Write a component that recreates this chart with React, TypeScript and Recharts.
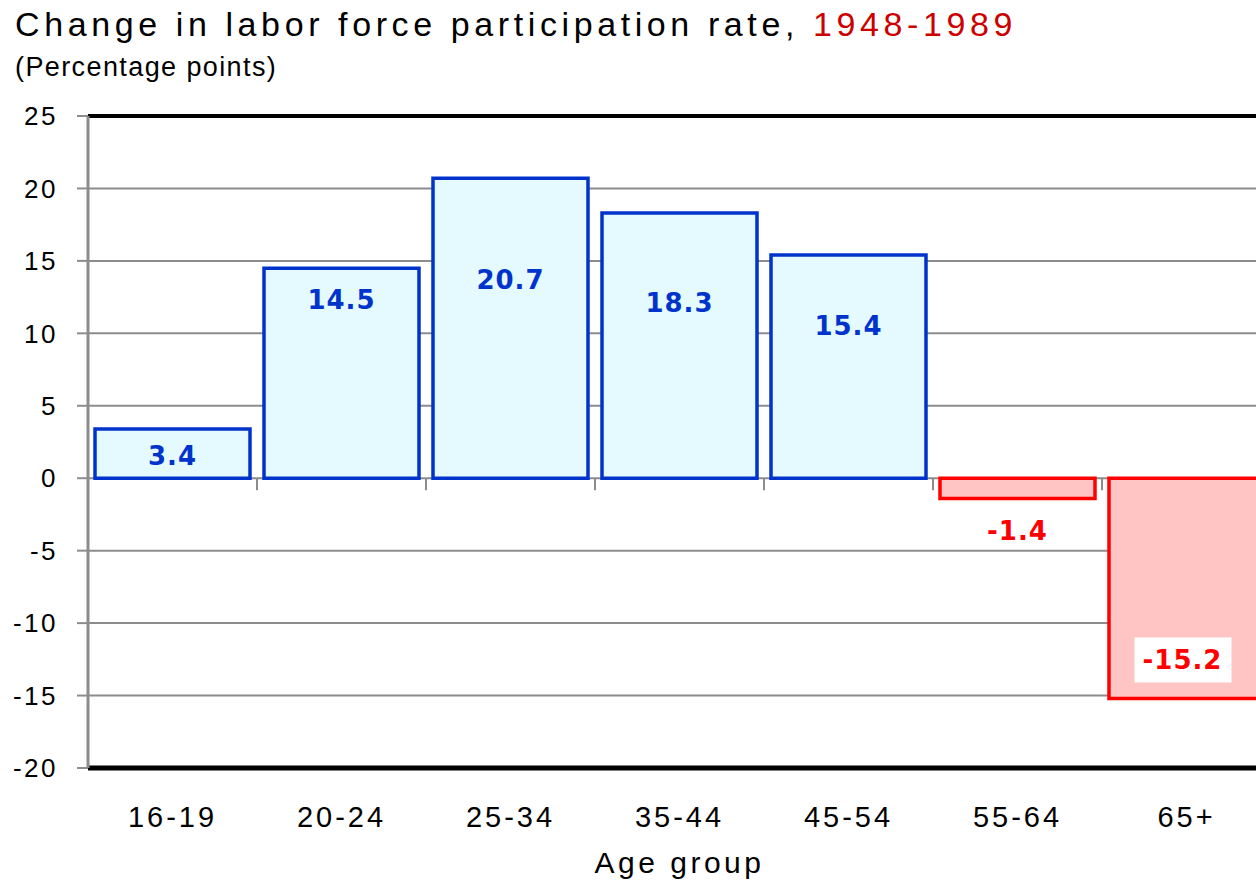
import React from 'react';
import { BarChart, Bar, XAxis, YAxis, CartesianGrid, ReferenceLine, LabelList, Cell } from 'recharts';

const categories = ['16-19', '20-24', '25-34', '35-44', '45-54', '55-64', '65+'];
const changes = [3.4, 14.5, 20.7, 18.3, 15.4, -1.4, -15.2];
const yTicks = [-20, -15, -10, -5, 0, 5, 10, 15, 20, 25];

const data = categories.map((c, i) => ({ age: c, value: changes[i] }));
const boundaryCats = categories.slice(1);

const FONT = 'Liberation Sans, Arial, sans-serif';
const BOLD_FONT = 'DejaVu Sans, Verdana, sans-serif';
const BLUE = '#0033cc';
const RED = '#ff0000';

const ValueLabel = (props: any) => {
  const { x, y, width, height, value, index } = props;
  const top = Math.min(y, y + height);
  const bottom = Math.max(y, y + height);
  const cx = x + width / 2;
  // per-bar label placement (styling)
  const posOffsets = [27, 32, 102, 90, 71];
  let cy: number;
  let color = BLUE;
  let boxed = false;
  if (value >= 0) {
    cy = top + (posOffsets[index] ?? 30);
  } else {
    color = RED;
    if (index === 5) cy = bottom + 32;
    else {
      cy = bottom - 38;
      boxed = true;
    }
  }
  const txt = String(value);
  return (
    <g>
      {boxed && <rect x={cx - 52} y={cy - 23} width={97} height={45} fill="#fff" />}
      <text
        x={cx - (boxed ? 4 : 0)}
        y={cy}
        textAnchor="middle"
        dominantBaseline="central"
        fill={color}
        fontFamily={BOLD_FONT}
        fontWeight="bold"
        fontSize={26}
        letterSpacing={1}
      >
        {txt}
      </text>
    </g>
  );
};

export default function App() {
  return (
    <div style={{ position: 'absolute', left: 0, top: 0, width: 1256, height: 884, overflow: 'hidden', background: '#fff' }}>
      <div style={{ position: 'absolute', left: 15, top: 5, fontFamily: FONT, fontSize: 34, letterSpacing: 4.6, whiteSpace: 'nowrap', color: '#000' }}>
        Change in labor force participation rate, <span style={{ color: '#cc0000' }}>1948-1989</span>
      </div>
      <div style={{ position: 'absolute', left: 15, top: 52, fontFamily: FONT, fontSize: 27, letterSpacing: 1.4, whiteSpace: 'nowrap', color: '#000' }}>
        (Percentage points)
      </div>
      <div style={{ position: 'absolute', left: 0, top: 0 }}>
        <BarChart width={1280} height={884} data={data} margin={{ top: 116, right: 9, left: 0, bottom: 0 }} barCategoryGap={7}>
          <CartesianGrid vertical={false} stroke="#8c8c8c" strokeWidth={2} />
          <XAxis
            dataKey="age"
            height={116}
            axisLine={false}
            tickLine={false}
            tickSize={0}
            tickMargin={38}
            tick={{ fill: '#000', fontSize: 29, fontFamily: FONT, letterSpacing: 3 }}
            label={{ value: 'Age group', position: 'insideBottom', offset: 11, fill: '#000', fontSize: 30, fontFamily: FONT, letterSpacing: 3.5 }}
          />
          <YAxis
            width={88}
            domain={[-20, 25]}
            ticks={yTicks}
            interval={0}
            axisLine={{ stroke: '#8c8c8c', strokeWidth: 3 }}
            tickLine={{ stroke: '#8c8c8c', strokeWidth: 2 }}
            tickSize={11}
            tickMargin={19}
            tick={{ fill: '#000', fontSize: 26, fontFamily: FONT, letterSpacing: 2.5 }}
          />
          <ReferenceLine y={25} stroke="#000" strokeWidth={4} />
          <ReferenceLine y={-20} stroke="#000" strokeWidth={5} />
          {boundaryCats.map((c) => (
            <ReferenceLine
              key={c}
              position="start"
              segment={[{ x: c, y: 0 }, { x: c, y: -0.83 }]}
              stroke="#8c8c8c"
              strokeWidth={2}
            />
          ))}
          <Bar dataKey="value" isAnimationActive={false} strokeWidth={3.5}>
            {data.map((d, i) => (
              <Cell key={i} fill={d.value >= 0 ? '#e5faff' : '#ffc5c5'} stroke={d.value >= 0 ? BLUE : RED} />
            ))}
            <LabelList dataKey="value" content={ValueLabel} />
          </Bar>
        </BarChart>
      </div>
    </div>
  );
}
